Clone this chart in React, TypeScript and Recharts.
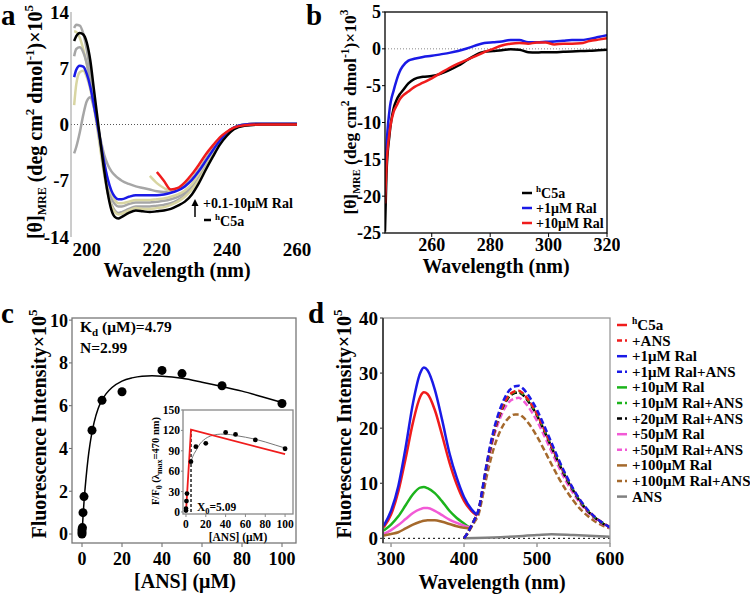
import React from 'react';
import { ComposedChart, Line, XAxis, YAxis, ReferenceLine } from 'recharts';

const SERIF = '"Liberation Serif", "Times New Roman", Times, serif';
const RED = '#f01c1c';
const BLUE = '#1a1ae6';
const GREEN = '#1cb41c';
const MAGENTA = '#f25ad6';
const BROWN = '#a5692c';
const GRAY = '#a6a6a6';
const KHAKI = '#d8d5a2';

// ---------- a: far-UV CD, hC5a titrated with Ral
const aWave = [196.4, 197, 198, 199, 200, 201, 202, 203, 204, 205, 206, 207, 208, 209, 210, 212, 214, 216, 218, 220, 222, 224, 226, 228, 230, 232, 234, 236, 238, 240, 242, 245, 250, 255, 260];
const aC5a = [10.4, 11.0, 11.4, 11.2, 10.2, 8.0, 4.5, 1.0, -2.5, -5.8, -8.6, -10.6, -11.5, -11.7, -11.5, -11.0, -10.7, -10.8, -10.9, -10.8, -10.7, -10.5, -10.1, -9.6, -8.7, -7.3, -5.6, -4.0, -2.5, -1.4, -0.6, -0.15, 0, 0, 0];
const aGray1 = [12.0, 12.4, 12.3, 11.3, 9.3, 6.5, 3.2, 0.2, -3.0, -6.0, -8.4, -9.9, -10.7, -11.0, -10.9, -10.5, -10.2, -10.2, -10.2, -10.1, -10.0, -9.8, -9.4, -8.8, -7.9, -6.5, -4.9, -3.4, -2.1, -1.1, -0.5, -0.05, 0.1, 0.1, 0.1];
const aKhaki1 = [11.6, 11.5, 10.8, 9.4, 7.5, 5.0, 2.3, -0.5, -3.5, -6.3, -8.6, -10.1, -10.9, -11.2, -11.1, -10.7, -10.4, -10.5, -10.5, -10.4, -10.3, -10.0, -9.6, -9.0, -8.1, -6.8, -5.2, -3.6, -2.2, -1.2, -0.5, -0.05, 0.1, 0.1, 0.1];
const aGray2 = [8.5, 9.4, 9.6, 9.0, 7.6, 5.5, 2.8, 0.0, -2.8, -5.5, -7.7, -9.1, -9.9, -10.2, -10.2, -9.9, -9.7, -9.7, -9.7, -9.6, -9.5, -9.3, -9.0, -8.5, -7.6, -6.3, -4.8, -3.3, -2.0, -1.0, -0.4, 0, 0.1, 0.1, 0.1];
const aRal1 = [5.9, 6.8, 7.3, 7.2, 6.3, 4.7, 2.5, 0.1, -2.4, -4.8, -6.8, -8.2, -9.0, -9.3, -9.3, -9.0, -8.8, -8.8, -8.8, -8.8, -8.7, -8.5, -8.2, -7.7, -6.9, -5.8, -4.5, -3.2, -2.0, -1.0, -0.4, 0, 0.1, 0.1, 0.1];
const aKhaki2 = [2.4, 5.0, 6.5, 6.7, 5.9, 4.4, 2.3, 0.0, -2.4, -4.8, -7.0, -8.5, -9.4, -9.8, -9.8, -9.6, -9.4, -9.4, -9.4, -9.3, -9.2, -9.0, -8.7, -8.2, -7.4, -6.1, -4.7, -3.3, -2.0, -1.0, -0.4, 0, 0.1, 0.1, 0.1];
const aGray3 = [-3.6, -2.8, -1.0, 1.2, 2.9, 3.4, 2.2, 0.2, -2.0, -3.8, -5.0, -5.8, -6.3, -6.7, -7.0, -7.4, -7.7, -7.9, -8.1, -8.3, -8.4, -8.3, -8.0, -7.5, -6.7, -5.6, -4.3, -3.0, -1.9, -1.0, -0.4, 0, 0.1, 0.1, 0.1];
const aKhaki3 = [null, null, null, null, null, null, null, null, null, null, null, null, null, null, null, null, null, null, -6.4, -7.3, -7.9, -8.3, -8.1, -7.6, -6.8, -5.7, -4.4, -3.1, -2.0, -1.1, -0.5, 0, 0.1, 0.1, 0.1];
const aRal10 = [null, null, null, null, null, null, null, null, null, null, null, null, null, null, null, null, null, null, null, -5.9, -7.0, -8.1, -7.9, -7.2, -6.2, -5.0, -3.7, -2.6, -1.6, -0.9, -0.4, -0.1, 0, 0, 0];
const aTicksX = [200, 220, 240, 260];
const aTicksY = [-14, -7, 0, 7, 14];

// ---------- b: near-UV CD
const bWave = [244, 244.5, 245.5, 247, 248, 249, 250, 252, 254, 257, 260, 263, 266, 269, 272, 275, 278, 281, 284, 287, 290, 293, 296, 299, 302, 305, 308, 311, 314, 317, 320];
const bC5a = [-24.8, -17, -11.8, -8.0, -6.9, -6.2, -5.7, -4.7, -4.1, -3.8, -3.7, -3.4, -2.9, -2.3, -1.55, -0.85, -0.4, -0.3, -0.2, -0.05, -0.12, -0.45, -0.5, -0.45, -0.45, -0.4, -0.35, -0.3, -0.27, -0.2, -0.13];
const bRal1 = [-19.5, -13.6, -8.5, -5.6, -4.2, -3.1, -2.4, -1.6, -1.35, -1.1, -0.95, -0.75, -0.55, -0.3, 0.05, 0.45, 0.78, 0.9, 1.0, 1.2, 1.2, 0.9, 0.9, 0.95, 1.0, 1.1, 1.2, 1.2, 1.35, 1.6, 1.85];
const bRal10 = [-21, -16, -11.5, -8.5, -7.7, -6.9, -6.4, -5.8, -5.2, -4.6, -4.0, -3.3, -2.6, -2.0, -1.5, -1.0, -0.45, 0, 0.45, 0.7, 0.8, 0.7, 0.85, 0.85, 0.6, 0.7, 0.7, 0.75, 1.05, 1.25, 1.43];
const bTicksX = [260, 280, 300, 320];
const bTicksY = [-25, -20, -15, -10, -5, 0, 5];

// ---------- c: ANS binding
const cAns = [0, 0, 0, 0.2, 0.5, 1, 5, 10, 20, 40, 50, 70, 100];
const cIntensity = [0, 0.1, 0.2, 0.3, 1.0, 1.75, 4.85, 6.25, 6.65, 7.65, 7.5, 6.93, 6.1];
const cFitAns = [0, 0.5, 1, 2, 3, 4, 5, 6, 8, 10, 12, 15, 20, 25, 30, 35, 40, 50, 60, 70, 80, 90, 100];
const cFitIntensity = [0, 0.8, 1.5, 2.6, 3.5, 4.2, 4.75, 5.2, 5.85, 6.25, 6.55, 6.85, 7.15, 7.3, 7.38, 7.4, 7.38, 7.28, 7.1, 6.9, 6.68, 6.42, 6.15];
const cTicksX = [0, 20, 40, 60, 80, 100];
const cTicksY = [0, 2, 4, 6, 8, 10];

// inset: F/F0
const iAns = [0, 0, 0.5, 1, 5, 10, 20, 40, 50, 70, 100];
const iRatio = [2, 5, 16, 27, 74, 96, 101, 117, 114, 106, 93];
const iFitAns = [5, 7, 10, 14, 18, 22, 28, 35, 40, 50, 60, 70, 80, 90, 100];
const iFitRatio = [74, 82, 90, 100, 106, 110, 113, 114.5, 114.5, 112.5, 110, 107, 103, 98.5, 94];
const iX0 = 5.09;
const iLinAns = [0, iX0, 100];
const iLinRatio = [0, 121, 85];
const iTicksX = [0, 20, 40, 60, 80, 100];
const iTicksY = [0, 30, 60, 90, 120, 150];

// ---------- d: fluorescence emission
const dScan = [290, 300, 310, 320, 330, 340, 345, 350, 360, 370, 380, 390, 400, 410, 418];
const dScanShort = [290, 300, 310, 320, 330, 340, 345, 350, 360, 370, 380, 390, 400, 407];
const dAnsScan = [400, 405, 410, 415, 420, 425, 430, 440, 450, 460, 470, 475, 480, 490, 500, 510, 520, 530, 540, 550, 560, 570, 580, 590, 600];
const dAnsOnlyScan = [400, 450, 500, 520, 550, 600];
const dC5a = [2.0, 4.3, 8.5, 14.5, 21.0, 25.7, 26.5, 26.2, 23.3, 18.7, 13.8, 9.8, 6.8, 5.0, 4.1];
const dRal1 = [2.3, 5.0, 9.5, 16.5, 24.5, 30.0, 31.0, 30.5, 27.0, 21.5, 15.5, 11.0, 7.5, 5.3, 4.2];
const dRal10 = [1.4, 2.5, 4.0, 6.0, 8.0, 9.2, 9.3, 9.1, 8.2, 6.7, 5.0, 3.7, 2.7, 2.0];
const dRal50 = [0.8, 1.5, 2.4, 3.5, 4.6, 5.3, 5.5, 5.5, 5.0, 4.2, 3.4, 2.8, 2.3, 2.0];
const dRal100 = [0.5, 0.8, 1.1, 1.8, 2.5, 3.0, 3.2, 3.3, 3.3, 3.0, 2.6, 2.2, 1.9, 1.8];
const dC5aAns = [0, 1.0, 2.3, 3.6, 5.2, 8.6, 12.5, 18.9, 23.1, 25.7, 26.7, 26.8, 26.4, 24.8, 22.6, 19.8, 16.8, 13.9, 11.2, 8.8, 6.7, 5.0, 3.8, 2.8, 2.0];
const dRal1Ans = [0, 1.0, 2.3, 3.6, 5.2, 8.8, 12.8, 19.3, 23.7, 26.5, 27.6, 27.7, 27.3, 25.6, 23.3, 20.4, 17.3, 14.2, 11.4, 8.9, 6.8, 5.1, 3.8, 2.8, 2.0];
const dRal10Ans = [0, 1.0, 2.3, 3.6, 5.1, 8.5, 12.4, 18.8, 23.0, 25.6, 26.6, 26.7, 26.3, 24.7, 22.5, 19.7, 16.7, 13.8, 11.1, 8.7, 6.6, 5.0, 3.7, 2.8, 2.0];
const dRal20Ans = [0, 1.0, 2.2, 3.5, 5.0, 8.4, 12.2, 18.6, 22.8, 25.4, 26.4, 26.5, 26.1, 24.5, 22.3, 19.5, 16.5, 13.6, 10.9, 8.6, 6.5, 4.9, 3.7, 2.7, 2.0];
const dRal50Ans = [0, 1.0, 2.2, 3.4, 4.9, 8.1, 11.8, 18.0, 22.0, 24.5, 25.4, 25.5, 25.1, 23.5, 21.3, 18.6, 15.7, 12.9, 10.3, 8.1, 6.2, 4.7, 3.5, 2.6, 1.9];
const dRal100Ans = [0, 0.9, 2.0, 3.1, 4.4, 7.3, 10.6, 16.0, 19.6, 21.7, 22.5, 22.5, 22.1, 20.6, 18.5, 16.0, 13.4, 10.9, 8.7, 6.8, 5.2, 4.0, 3.0, 2.3, 1.8];
const dAnsOnly = [0, 0.2, 0.6, 0.75, 0.6, 0.3];
const dTicksX = [300, 400, 500, 600];
const dTicksY = [0, 10, 20, 30, 40];

const pts = (xs: number[], ys: (number | null)[]) => xs.map((x, i) => ({ x, y: ys[i] }));

const aSeries = [
  { key: 'g1', color: GRAY, y: aGray1 },
  { key: 'k1', color: KHAKI, y: aKhaki1 },
  { key: 'g2', color: GRAY, y: aGray2 },
  { key: 'k2', color: KHAKI, y: aKhaki2 },
  { key: 'g3', color: GRAY, y: aGray3 },
  { key: 'k3', color: KHAKI, y: aKhaki3 },
  { key: 'r1', color: BLUE, y: aRal1 },
  { key: 'c5a', color: '#000', y: aC5a },
  { key: 'r10', color: RED, y: aRal10 },
];

const bSeries = [
  { name: 'C5a', sup: 'h', color: '#000', y: bC5a },
  { name: '+1μM Ral', color: BLUE, y: bRal1 },
  { name: '+10μM Ral', color: RED, y: bRal10 },
];

const dSeries = [
  { name: 'C5a', sup: 'h', color: RED, dashed: false, x: dScan, y: dC5a },
  { name: '+ANS', color: RED, dashed: true, x: dAnsScan, y: dC5aAns },
  { name: '+1μM Ral', color: BLUE, dashed: false, x: dScan, y: dRal1 },
  { name: '+1μM Ral+ANS', color: BLUE, dashed: true, x: dAnsScan, y: dRal1Ans },
  { name: '+10μM Ral', color: GREEN, dashed: false, x: dScanShort, y: dRal10 },
  { name: '+10μM Ral+ANS', color: GREEN, dashed: true, x: dAnsScan, y: dRal10Ans },
  { name: '+20μM Ral+ANS', color: '#000', dashed: true, x: dAnsScan, y: dRal20Ans },
  { name: '+50μM Ral', color: MAGENTA, dashed: false, x: dScanShort, y: dRal50 },
  { name: '+50μM Ral+ANS', color: MAGENTA, dashed: true, x: dAnsScan, y: dRal50Ans },
  { name: '+100μM Ral', color: BROWN, dashed: false, x: dScanShort, y: dRal100 },
  { name: '+100μM Ral+ANS', color: BROWN, dashed: true, x: dAnsScan, y: dRal100Ans },
  { name: 'ANS', color: '#808080', dashed: false, x: dAnsOnlyScan, y: dAnsOnly },
];

// panel boxes: container + plot area, in page pixels
type Box = { left: number; top: number; w: number; h: number; x0: number; x1: number; y0: number; y1: number };
const LA: Box = { left: 0, top: 0, w: 320, h: 290, x0: 71, x1: 297, y0: 12, y1: 237 };
const LB: Box = { left: 330, top: 0, w: 290, h: 290, x0: 385, x1: 607, y0: 12, y1: 233 };
const LC: Box = { left: 0, top: 295, w: 310, h: 302, x0: 72, x1: 296, y0: 318, y1: 543 };
const LI: Box = { left: 140, top: 400, w: 160, h: 145, x0: 183, x1: 293, y0: 410, y1: 514 };
const LD: Box = { left: 330, top: 295, w: 300, h: 302, x0: 383, x1: 610, y0: 318, y1: 543 };

const margin = (L: Box) => ({ top: L.y0 - L.top, right: L.left + L.w - L.x1, bottom: 0, left: 0 });
const yW = (L: Box) => L.x0 - L.left;
const xH = (L: Box) => L.top + L.h - L.y1;
const tick = (size: number) => ({ fill: '#000', fontSize: size, fontWeight: 700, fontFamily: SERIF });

const Holder: React.FC<{ L: Box; children: React.ReactNode }> = ({ L, children }) => (
  <div style={{ position: 'absolute', left: L.left, top: L.top, width: L.w, height: L.h }}>{children}</div>
);

const PanelA = () => (
  <ComposedChart width={LA.w} height={LA.h} margin={margin(LA)}>
    <XAxis dataKey="x" type="number" domain={[195.5, 260]} ticks={aTicksX} interval={0} allowDataOverflow
      height={xH(LA)} axisLine={false} tickLine={false} tickSize={0} tickMargin={6} tick={tick(19)} />
    <YAxis type="number" domain={[-14, 14]} ticks={aTicksY} interval={0} allowDataOverflow
      width={yW(LA)} axisLine={{ stroke: '#9a9a9a' }} tickLine={false} tickSize={0} tickMargin={2} tick={tick(19)} />
    <ReferenceLine y={0} stroke="#555" strokeDasharray="1 2" />
    {aSeries.map(s => (
      <Line key={s.key} data={pts(aWave, s.y)} dataKey="y" type="monotone" stroke={s.color} strokeWidth={2.5}
        dot={false} isAnimationActive={false} connectNulls={false} />
    ))}
  </ComposedChart>
);

const PanelB = () => (
  <ComposedChart width={LB.w} height={LB.h} margin={margin(LB)}>
    <XAxis dataKey="x" type="number" domain={[244, 320]} ticks={bTicksX} interval={0} allowDataOverflow
      height={xH(LB)} axisLine={false} tickLine={{ stroke: '#000' }} tickSize={4} tickMargin={1} tick={tick(18)} />
    <YAxis type="number" domain={[-25, 5]} ticks={bTicksY} interval={0} allowDataOverflow
      width={yW(LB)} axisLine={false} tickLine={{ stroke: '#000' }} tickSize={3} tickMargin={1} tick={tick(18)} />
    <ReferenceLine y={0} stroke="#888" strokeDasharray="1 2" />
    {bSeries.map(s => (
      <Line key={s.name} data={pts(bWave, s.y)} dataKey="y" type="monotone" stroke={s.color} strokeWidth={2.5}
        dot={false} isAnimationActive={false} />
    ))}
  </ComposedChart>
);

const PanelC = () => (
  <ComposedChart width={LC.w} height={LC.h} margin={margin(LC)}>
    <XAxis dataKey="x" type="number" domain={[-5, 107]} ticks={cTicksX} interval={0} allowDataOverflow
      height={xH(LC)} axisLine={false} tickLine={{ stroke: '#666' }} tickSize={4} tickMargin={5} tick={tick(18)} />
    <YAxis type="number" domain={[-0.42, 10.1]} ticks={cTicksY} interval={0} allowDataOverflow
      width={yW(LC)} axisLine={false} tickLine={{ stroke: '#666' }} tickSize={3} tickMargin={1} tick={tick(18)} />
    <Line data={pts(cFitAns, cFitIntensity)} dataKey="y" type="monotone" stroke="#000" strokeWidth={1.5}
      dot={false} isAnimationActive={false} />
    <Line data={pts(cAns, cIntensity)} dataKey="y" type="linear" stroke="none"
      dot={{ r: 4.5, fill: '#000', stroke: '#000', strokeWidth: 0 }} isAnimationActive={false} />
  </ComposedChart>
);

const Inset = () => (
  <ComposedChart width={LI.w} height={LI.h} margin={margin(LI)}>
    <XAxis dataKey="x" type="number" domain={[-3, 108]} ticks={iTicksX} interval={0} allowDataOverflow
      height={xH(LI)} axisLine={false} tickLine={{ stroke: '#888' }} tickSize={3} tickMargin={3} tick={tick(11.5)} />
    <YAxis type="number" domain={[-3, 150]} ticks={iTicksY} interval={0} allowDataOverflow
      width={yW(LI)} axisLine={false} tickLine={{ stroke: '#888' }} tickSize={2} tickMargin={1} tick={tick(11.5)} />
    <Line data={pts(iFitAns, iFitRatio)} dataKey="y" type="monotone" stroke="#777" strokeWidth={1}
      dot={false} isAnimationActive={false} />
    <Line data={pts([iX0, iX0], [0, iLinRatio[1]])} dataKey="y" type="linear" stroke="#000" strokeWidth={1.3}
      strokeDasharray="3 2" dot={false} isAnimationActive={false} />
    <Line data={pts(iLinAns, iLinRatio)} dataKey="y" type="linear" stroke={RED} strokeWidth={1.8}
      dot={false} isAnimationActive={false} />
    <Line data={pts(iAns, iRatio)} dataKey="y" type="linear" stroke="none"
      dot={{ r: 2.4, fill: '#000', stroke: '#000', strokeWidth: 0 }} isAnimationActive={false} />
  </ComposedChart>
);

const dDrawOrder = [11, 0, 2, 4, 7, 9, 10, 8, 6, 5, 1, 3];

const PanelD = () => (
  <ComposedChart width={LD.w} height={LD.h} margin={margin(LD)}>
    <XAxis dataKey="x" type="number" domain={[289, 600]} ticks={dTicksX} interval={0} allowDataOverflow
      height={xH(LD)} axisLine={false} tickLine={{ stroke: '#666' }} tickSize={4} tickMargin={5} tick={tick(19)} />
    <YAxis type="number" domain={[-0.85, 40]} ticks={dTicksY} interval={0} allowDataOverflow
      width={yW(LD)} axisLine={{ stroke: '#222' }} tickLine={{ stroke: '#222' }} tickSize={3} tickMargin={2} tick={tick(19)} />
    <ReferenceLine y={0} stroke="#000" strokeDasharray="2 3" />
    {dDrawOrder.map(i => {
      const s = dSeries[i];
      return (
        <Line key={s.name} data={pts(s.x, s.y)} dataKey="y" type="monotone" stroke={s.color} strokeWidth={2.5}
          strokeDasharray={s.dashed ? '6 3' : undefined} dot={false} isAnimationActive={false} />
      );
    })}
  </ComposedChart>
);

const T: React.FC<{ x: number; y: number; size: number; anchor?: 'start' | 'middle' | 'end'; rotate?: boolean; children: React.ReactNode }> =
  ({ x, y, size, anchor = 'start', rotate = false, children }) => (
    <text x={x} y={y} fontSize={size} fontWeight={700} fontFamily={SERIF} fill="#000" textAnchor={anchor}
      transform={rotate ? `rotate(-90 ${x} ${y})` : undefined}>{children}</text>
  );

const Overlay = () => (
  <svg width={750} height={597} style={{ position: 'absolute', left: 0, top: 0, pointerEvents: 'none' }}>
    {/* frames */}
    <rect x={LB.x0} y={LB.y0} width={LB.x1 - LB.x0} height={LB.y1 - LB.y0} fill="none" stroke="#000" strokeWidth={1.3} />
    <rect x={LC.x0} y={LC.y0} width={LC.x1 - LC.x0} height={LC.y1 - LC.y0} fill="none" stroke="#777" strokeWidth={1.3} />
    <rect x={LI.x0} y={LI.y0} width={LI.x1 - LI.x0} height={LI.y1 - LI.y0} fill="none" stroke="#888" strokeWidth={1.3} />
    <rect x={LD.x0} y={LD.y0} width={LD.x1 - LD.x0} height={LD.y1 - LD.y0} fill="none" stroke="#9a9a9a" strokeWidth={1.3} />
    <line x1={LD.x0} y1={LD.y0} x2={LD.x0} y2={LD.y1} stroke="#222" strokeWidth={1.3} />

    {/* panel letters */}
    <T x={1} y={25} size={29}>a</T>
    <T x={306} y={25} size={29}>b</T>
    <T x={1} y={323} size={29}>c</T>
    <T x={308} y={323} size={29}>d</T>

    {/* y titles */}
    <T x={42} y={122} size={20} anchor="middle" rotate>
      [θ]<tspan dy={4} fontSize={12}>MRE</tspan><tspan dy={-4}> (deg cm</tspan><tspan dy={-8} fontSize={13}>2</tspan>
      <tspan dy={8}> dmol</tspan><tspan dy={-8} fontSize={13}>-1</tspan><tspan dy={8}>)×10</tspan><tspan dy={-9} fontSize={13}>5</tspan>
    </T>
    <T x={356} y={112} size={17.5} anchor="middle" rotate>
      [θ]<tspan dy={4} fontSize={10.5}>MRE</tspan><tspan dy={-4}> (deg cm</tspan><tspan dy={-7} fontSize={11.5}>2</tspan>
      <tspan dy={7}> dmol</tspan><tspan dy={-7} fontSize={11.5}>-1</tspan><tspan dy={7}>)×10</tspan><tspan dy={-8} fontSize={11.5}>3</tspan>
    </T>
    <T x={46} y={424} size={20} anchor="middle" rotate>
      Fluorescence Intensity×10<tspan dy={-9} fontSize={13}>5</tspan>
    </T>
    <T x={351} y={424} size={20} anchor="middle" rotate>
      Fluorescence Intensity×10<tspan dy={-9} fontSize={13}>5</tspan>
    </T>
    <T x={159} y={461} size={10.5} anchor="middle" rotate>
      F/F<tspan dy={3} fontSize={8}>0</tspan><tspan dy={-3}> (λ</tspan><tspan dy={3} fontSize={8}>max</tspan><tspan dy={-3}>=470 nm)</tspan>
    </T>

    {/* x titles */}
    <T x={177} y={277} size={20} anchor="middle">Wavelength (nm)</T>
    <T x={496} y={273} size={20} anchor="middle">Wavelength (nm)</T>
    <T x={185} y={588} size={20} anchor="middle">[ANS] (μM)</T>
    <T x={238} y={541} size={11.5} anchor="middle">[ANS] (μM)</T>
    <T x={492} y={589} size={20} anchor="middle">Wavelength (nm)</T>

    {/* a annotation */}
    <line x1={195} y1={217} x2={195} y2={204} stroke="#000" strokeWidth={1.5} />
    <polygon points="191.5,206 198.5,206 195,199" fill="#000" />
    <T x={203} y={208} size={14}>+0.1-10μM Ral</T>
    <line x1={204} y1={220} x2={211} y2={220} stroke="#000" strokeWidth={2.5} />
    <T x={215} y={226} size={14}><tspan dy={-6} fontSize={9}>h</tspan><tspan dy={6}>C5a</tspan></T>

    {/* b legend */}
    {bSeries.map((s, i) => (
      <g key={s.name}>
        <line x1={522} x2={532} y1={193 + i * 15} y2={193 + i * 15} stroke={s.color} strokeWidth={2.5} />
        <T x={536} y={198 + i * 15} size={14}>
          {s.sup ? <><tspan dy={-6} fontSize={9}>{s.sup}</tspan><tspan dy={6}>{s.name}</tspan></> : s.name}
        </T>
      </g>
    ))}

    {/* c notes */}
    <T x={80} y={332} size={15.5}>K<tspan dy={4} fontSize={11}>d</tspan><tspan dy={-4}> (μM)=4.79</tspan></T>
    <T x={80} y={353} size={15.5}>N=2.99</T>
    <T x={197} y={511} size={11.5}>X<tspan dy={3} fontSize={8.5}>0</tspan><tspan dy={-3}>=5.09</tspan></T>

    {/* d legend */}
    {dSeries.map((s, i) => (
      <g key={s.name}>
        <line x1={617} x2={627} y1={325 + i * 15.6} y2={325 + i * 15.6} stroke={s.color} strokeWidth={2.5}
          strokeDasharray={s.dashed ? '5 3' : undefined} />
        <T x={632} y={330 + i * 15.6} size={15}>
          {s.sup ? <><tspan dy={-6} fontSize={9.5}>{s.sup}</tspan><tspan dy={6}>{s.name}</tspan></> : s.name}
        </T>
      </g>
    ))}
  </svg>
);

export default function App() {
  return (
    <div style={{ position: 'absolute', left: 0, top: 0, width: 750, height: 597, background: '#fff', overflow: 'hidden' }}>
      <Holder L={LA}><PanelA /></Holder>
      <Holder L={LB}><PanelB /></Holder>
      <Holder L={LC}><PanelC /></Holder>
      <Holder L={LI}><Inset /></Holder>
      <Holder L={LD}><PanelD /></Holder>
      <Overlay />
    </div>
  );
}
